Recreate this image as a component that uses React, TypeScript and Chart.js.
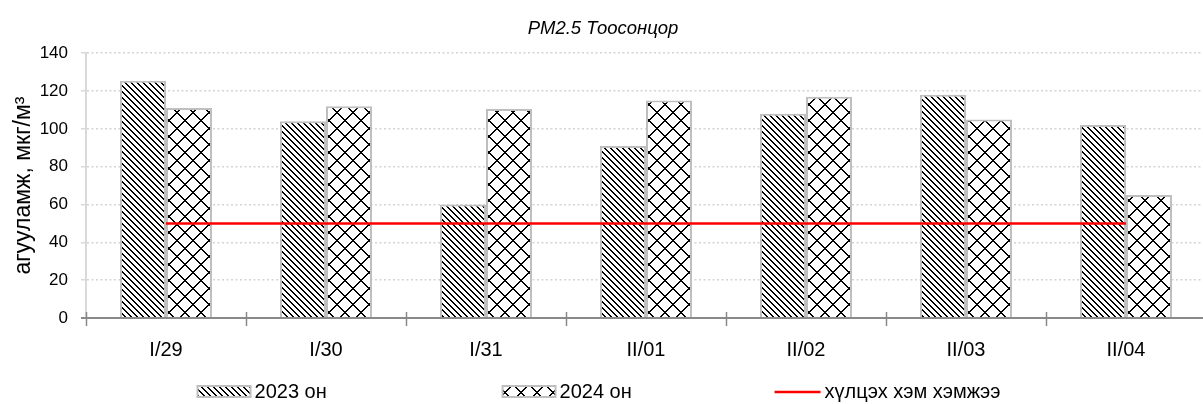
import { useEffect, useRef } from "react";
import { Chart, registerables } from "chart.js";

Chart.register(...registerables);

const categories = ["I/29", "I/30", "I/31", "II/01", "II/02", "II/03", "II/04"];
const values2023 = [125.5, 104, 60, 91, 108, 118, 102];
const values2024 = [111, 112, 110.5, 115, 117, 105, 65];
const limitValues = [50, 50, 50, 50, 50, 50, 50];
const yTickValues = [0, 20, 40, 60, 80, 100, 120, 140];
const seriesNames = ["2023 он", "2024 он", "хүлцэх хэм хэмжээ"];
const chartTitle = "PM2.5 Тоосонцор";
const yTitle = "агууламж, мкг/м³";

const FAMILY = '"Liberation Sans", Arial, Helvetica, sans-serif';

function makePattern(
  ctx: CanvasRenderingContext2D,
  w: number,
  h: number,
  fn: (x: number, y: number) => boolean
) {
  const c = document.createElement("canvas");
  c.width = w;
  c.height = h;
  const g = c.getContext("2d")!;
  g.fillStyle = "#ffffff";
  g.fillRect(0, 0, w, h);
  g.fillStyle = "#000000";
  for (let y = 0; y < h; y++) {
    for (let x = 0; x < w; x++) {
      if (fn(x, y)) g.fillRect(x, y, 1, 1);
    }
  }
  return ctx.createPattern(c, "repeat")!;
}

export default function App() {
  const ref = useRef<HTMLCanvasElement>(null);

  useEffect(() => {
    const canvas = ref.current!;
    const ctx = canvas.getContext("2d")!;
    Chart.defaults.font.family = FAMILY;

    const diag = makePattern(ctx, 6, 6, (x, y) => (x - y + 6) % 6 < 2);
    const cross = makePattern(
      ctx,
      16,
      16,
      (x, y) => (x - y + 16) % 16 < 2 || (x + y) % 16 < 2
    );

    const axisPlugin = {
      id: "axisTicks",
      afterDatasetsDraw(chart: any) {
        const c = chart.ctx;
        const xs = chart.scales.x;
        const { left, right, bottom } = chart.chartArea;
        c.save();
        c.strokeStyle = "#898989";
        c.lineWidth = 2;
        c.beginPath();
        c.moveTo(left - 5, bottom);
        c.lineTo(right, bottom);
        c.stroke();
        c.lineWidth = 1.5;
        for (let i = 0; i <= categories.length; i++) {
          const px = Math.round(xs.getPixelForValue(i - 0.5)) + 0.5;
          c.beginPath();
          c.moveTo(px, bottom - 6);
          c.lineTo(px, bottom + 8);
          c.stroke();
        }
        c.restore();
      },
    };

    const legendPlugin = {
      id: "customLegend",
      afterDraw(chart: any) {
        const c = chart.ctx;
        c.save();
        c.font = `20px ${FAMILY}`;
        c.textBaseline = "middle";
        c.textAlign = "left";
        const boxW = 53;
        const lineW = 46;
        const gap = 4;
        const slots = [305, 272];
        const dsets = seriesNames.map((n) =>
          chart.data.datasets.find((d: any) => d.label === n)
        );
        const lastW = lineW + gap + c.measureText(seriesNames[2]).width;
        const total = slots[0] + slots[1] + lastW;
        let x = chart.width / 2 - 4 - total / 2;
        const y = 392;
        dsets.forEach((d: any, i: number) => {
          let w = boxW;
          if (d.type === "line") {
            w = lineW;
            c.strokeStyle = d.borderColor;
            c.lineWidth = 2.5;
            c.beginPath();
            c.moveTo(x, y);
            c.lineTo(x + lineW, y);
            c.stroke();
          } else {
            c.fillStyle = d.backgroundColor;
            c.fillRect(x, y - 6, boxW, 11);
            c.strokeStyle = "#bfbfbf";
            c.lineWidth = 2;
            c.strokeRect(x, y - 6, boxW, 11);
          }
          c.fillStyle = "#000";
          c.fillText(d.label, x + w + gap, y);
          x += slots[i] || 0;
        });
        c.restore();
      },
    };

    const chart = new Chart(canvas, {
      type: "bar",
      data: {
        labels: categories,
        datasets: [
          {
            type: "line",
            label: seriesNames[2],
            data: limitValues,
            borderColor: "#ff0000",
            borderWidth: 2.5,
            pointRadius: 0,
            fill: false,
            order: 0,
          } as any,
          {
            label: seriesNames[0],
            data: values2023,
            backgroundColor: diag,
            borderColor: "#bfbfbf",
            borderWidth: 2,
            categoryPercentage: 0.575,
            barPercentage: 1,
            order: 1,
          },
          {
            label: seriesNames[1],
            data: values2024,
            backgroundColor: cross,
            borderColor: "#bfbfbf",
            borderWidth: 2,
            categoryPercentage: 0.575,
            barPercentage: 1,
            order: 2,
          },
        ],
      },
      options: {
        responsive: false,
        animation: false,
        layout: { padding: { left: 0, right: 0, top: 0, bottom: 36 } },
        plugins: {
          legend: { display: false },
          tooltip: { enabled: false },
          title: {
            display: true,
            text: chartTitle,
            color: "#000",
            font: { size: 18.5, style: "italic", weight: "normal" },
            padding: { top: 18, bottom: 13 },
          },
        },
        scales: {
          x: {
            offset: true,
            grid: { display: false, drawTicks: false },
            border: { display: false },
            ticks: {
              color: "#000",
              font: { size: 20 },
              padding: 20,
              maxRotation: 0,
              autoSkip: false,
            },
            afterFit(s: any) {
              s.height = 50;
            },
          },
          y: {
            min: 0,
            max: 140,
            afterBuildTicks(s: any) {
              s.ticks = yTickValues.map((v) => ({ value: v }));
            },
            ticks: { color: "#000", font: { size: 17 }, padding: 13 },
            grid: {
              color: "#d4d4d4",
              lineWidth: 1.5,
              tickBorderDash: [1, 0],
              tickLength: 5,
              tickColor: (c: any) =>
                c.tick && c.tick.value === 0 ? "#898989" : "#d9d9d9",
            },
            border: { color: "#d9d9d9", width: 2, dash: [2, 2.5] },
            title: {
              display: true,
              text: yTitle,
              color: "#000",
              font: { size: 23 },
              padding: { top: 10, bottom: 0 },
            },
            afterFit(s: any) {
              s.width = 86;
            },
          },
        },
      },
      plugins: [axisPlugin, legendPlugin],
    });

    return () => chart.destroy();
  }, []);

  return (
    <div
      style={{
        position: "fixed",
        left: 0,
        top: 0,
        width: 1203,
        height: 404,
        overflow: "hidden",
        background: "#fff",
      }}
    >
      <canvas ref={ref} width={1206} height={404} style={{ display: "block" }} />
    </div>
  );
}
